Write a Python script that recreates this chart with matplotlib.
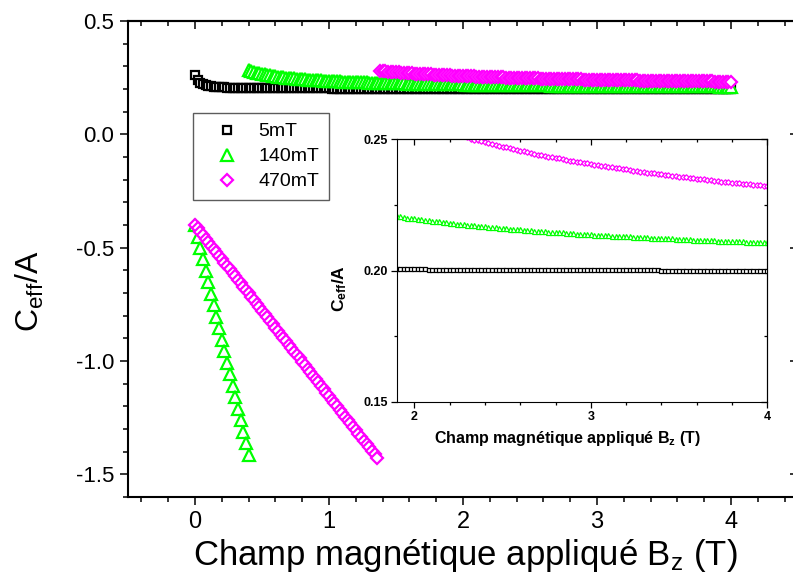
import matplotlib
matplotlib.use("Agg")
import matplotlib.pyplot as plt
from matplotlib.ticker import MultipleLocator, FixedLocator
from matplotlib.lines import Line2D

plt.rcParams["font.family"] = "Liberation Sans"
plt.rcParams["mathtext.fontset"] = "custom"
plt.rcParams["mathtext.rm"] = "Liberation Sans"
plt.rcParams["mathtext.bf"] = "Liberation Sans:bold"
plt.rcParams["mathtext.it"] = "Liberation Sans:italic"

# ── Data: applied field sweep (T) ─────────────────────────────────────────────
FIELD = [
    0.00, 0.02, 0.04, 0.06, 0.08, 0.10, 0.12, 0.14, 0.16, 0.18,
    0.20, 0.22, 0.24, 0.26, 0.28, 0.30, 0.32, 0.34, 0.36, 0.38,
    0.40, 0.42, 0.44, 0.46, 0.48, 0.50, 0.52, 0.54, 0.56, 0.58,
    0.60, 0.62, 0.64, 0.66, 0.68, 0.70, 0.72, 0.74, 0.76, 0.78,
    0.80, 0.82, 0.84, 0.86, 0.88, 0.90, 0.92, 0.94, 0.96, 0.98,
    1.00, 1.02, 1.04, 1.06, 1.08, 1.10, 1.12, 1.14, 1.16, 1.18,
    1.20, 1.22, 1.24, 1.26, 1.28, 1.30, 1.32, 1.34, 1.36, 1.38,
    1.40, 1.42, 1.44, 1.46, 1.48, 1.50, 1.52, 1.54, 1.56, 1.58,
    1.60, 1.62, 1.64, 1.66, 1.68, 1.70, 1.72, 1.74, 1.76, 1.78,
    1.80, 1.82, 1.84, 1.86, 1.88, 1.90, 1.92, 1.94, 1.96, 1.98,
    2.00, 2.02, 2.04, 2.06, 2.08, 2.10, 2.12, 2.14, 2.16, 2.18,
    2.20, 2.22, 2.24, 2.26, 2.28, 2.30, 2.32, 2.34, 2.36, 2.38,
    2.40, 2.42, 2.44, 2.46, 2.48, 2.50, 2.52, 2.54, 2.56, 2.58,
    2.60, 2.62, 2.64, 2.66, 2.68, 2.70, 2.72, 2.74, 2.76, 2.78,
    2.80, 2.82, 2.84, 2.86, 2.88, 2.90, 2.92, 2.94, 2.96, 2.98,
    3.00, 3.02, 3.04, 3.06, 3.08, 3.10, 3.12, 3.14, 3.16, 3.18,
    3.20, 3.22, 3.24, 3.26, 3.28, 3.30, 3.32, 3.34, 3.36, 3.38,
    3.40, 3.42, 3.44, 3.46, 3.48, 3.50, 3.52, 3.54, 3.56, 3.58,
    3.60, 3.62, 3.64, 3.66, 3.68, 3.70, 3.72, 3.74, 3.76, 3.78,
    3.80, 3.82, 3.84, 3.86, 3.88, 3.90, 3.92, 3.94, 3.96, 3.98,
    4.00,
]

# 5 mT : whole sweep 0 -> 4 T
C_5MT = [
    0.2610, 0.2400, 0.2280, 0.2200, 0.2160, 0.2130, 0.2110, 0.2098, 0.2088, 0.2080,
    0.2074, 0.2069, 0.2065, 0.2062, 0.2059, 0.2057, 0.2055, 0.2053, 0.2051, 0.2049,
    0.2047, 0.2045, 0.2044, 0.2042, 0.2041, 0.2040, 0.2039, 0.2038, 0.2037, 0.2036,
    0.2035, 0.2034, 0.2033, 0.2032, 0.2032, 0.2031, 0.2030, 0.2029, 0.2029, 0.2028,
    0.2027, 0.2027, 0.2026, 0.2025, 0.2025, 0.2024, 0.2024, 0.2023, 0.2023, 0.2022,
    0.2022, 0.2021, 0.2021, 0.2020, 0.2020, 0.2019, 0.2019, 0.2018, 0.2018, 0.2017,
    0.2017, 0.2017, 0.2016, 0.2016, 0.2015, 0.2015, 0.2015, 0.2014, 0.2014, 0.2014,
    0.2013, 0.2013, 0.2013, 0.2012, 0.2012, 0.2012, 0.2011, 0.2011, 0.2011, 0.2010,
    0.2010, 0.2010, 0.2010, 0.2009, 0.2009, 0.2009, 0.2009, 0.2008, 0.2008, 0.2008,
    0.2008, 0.2007, 0.2007, 0.2007, 0.2007, 0.2006, 0.2006, 0.2006, 0.2006, 0.2006,
    0.2006, 0.2006, 0.2006, 0.2006, 0.2002, 0.2002, 0.2002, 0.2002, 0.2002, 0.2002,
    0.2002, 0.2002, 0.2002, 0.2002, 0.2002, 0.2002, 0.2002, 0.2002, 0.2002, 0.2002,
    0.2001, 0.2001, 0.2001, 0.2001, 0.2001, 0.2001, 0.2001, 0.2001, 0.2001, 0.2001,
    0.2001, 0.2001, 0.2001, 0.2001, 0.2001, 0.2001, 0.2001, 0.2001, 0.2001, 0.2001,
    0.2001, 0.2001, 0.2001, 0.2001, 0.2001, 0.2001, 0.2001, 0.2001, 0.2001, 0.2001,
    0.2001, 0.2001, 0.2001, 0.2001, 0.2001, 0.2001, 0.2001, 0.2001, 0.2001, 0.2001,
    0.2001, 0.2001, 0.2001, 0.2001, 0.2001, 0.2001, 0.2001, 0.2001, 0.2001, 0.2001,
    0.2000, 0.2000, 0.2000, 0.2000, 0.2000, 0.2000, 0.2000, 0.2000, 0.2000, 0.2000,
    0.2000, 0.2000, 0.2000, 0.2000, 0.2000, 0.2000, 0.2000, 0.2000, 0.2000, 0.2000,
    0.2000, 0.2000, 0.2000, 0.2000, 0.2000, 0.2000, 0.2000, 0.2000, 0.2000, 0.2000,
    0.2000,
]

# 140 mT : linear branch 0 -> 0.40 T, then upper branch 0.40 -> 4 T
C_140MT_LOW = [
    -0.400, -0.451, -0.501, -0.552, -0.603, -0.653, -0.704, -0.755, -0.805, -0.856,
    -0.907, -0.957, -1.008, -1.059, -1.109, -1.160, -1.211, -1.261, -1.312, -1.363,
    -1.413,
]
C_140MT_HIGH = [
    0.2820, 0.2783, 0.2750, 0.2719, 0.2691, 0.2665, 0.2641, 0.2619, 0.2599, 0.2579,
    0.2562, 0.2545, 0.2529, 0.2515, 0.2501, 0.2488, 0.2476, 0.2464, 0.2453, 0.2442,
    0.2433, 0.2423, 0.2414, 0.2406, 0.2397, 0.2389, 0.2382, 0.2375, 0.2368, 0.2361,
    0.2355, 0.2349, 0.2343, 0.2337, 0.2332, 0.2327, 0.2322, 0.2317, 0.2312, 0.2308,
    0.2303, 0.2299, 0.2295, 0.2291, 0.2287, 0.2283, 0.2280, 0.2276, 0.2273, 0.2270,
    0.2266, 0.2263, 0.2260, 0.2257, 0.2254, 0.2252, 0.2249, 0.2246, 0.2244, 0.2241,
    0.2239, 0.2236, 0.2234, 0.2232, 0.2230, 0.2227, 0.2225, 0.2223, 0.2221, 0.2219,
    0.2217, 0.2215, 0.2214, 0.2212, 0.2210, 0.2208, 0.2206, 0.2204, 0.2202, 0.2201,
    0.2199, 0.2197, 0.2195, 0.2193, 0.2192, 0.2190, 0.2188, 0.2187, 0.2185, 0.2184,
    0.2182, 0.2181, 0.2179, 0.2178, 0.2176, 0.2175, 0.2174, 0.2172, 0.2171, 0.2170,
    0.2168, 0.2167, 0.2166, 0.2165, 0.2163, 0.2162, 0.2161, 0.2160, 0.2159, 0.2158,
    0.2157, 0.2156, 0.2154, 0.2153, 0.2152, 0.2151, 0.2150, 0.2149, 0.2148, 0.2147,
    0.2147, 0.2146, 0.2145, 0.2144, 0.2143, 0.2142, 0.2141, 0.2140, 0.2139, 0.2139,
    0.2138, 0.2137, 0.2136, 0.2135, 0.2135, 0.2134, 0.2133, 0.2132, 0.2132, 0.2131,
    0.2130, 0.2130, 0.2129, 0.2128, 0.2127, 0.2127, 0.2126, 0.2125, 0.2125, 0.2124,
    0.2124, 0.2123, 0.2122, 0.2122, 0.2121, 0.2120, 0.2120, 0.2119, 0.2119, 0.2118,
    0.2118, 0.2117, 0.2116, 0.2116, 0.2115, 0.2115, 0.2114, 0.2114, 0.2113, 0.2113,
    0.2112, 0.2112, 0.2111, 0.2111, 0.2110, 0.2110, 0.2109, 0.2109, 0.2108, 0.2108,
    0.2107,
]

# 470 mT : linear branch 0 -> 1.36 T, then upper branch 1.38 -> 4 T
C_470MT_LOW = [
    -0.4000, -0.4151, -0.4302, -0.4453, -0.4604, -0.4755, -0.4906, -0.5057, -0.5208, -0.5359,
    -0.5510, -0.5661, -0.5812, -0.5963, -0.6114, -0.6265, -0.6416, -0.6567, -0.6718, -0.6869,
    -0.7020, -0.7171, -0.7322, -0.7473, -0.7624, -0.7775, -0.7926, -0.8077, -0.8228, -0.8379,
    -0.8530, -0.8681, -0.8832, -0.8983, -0.9134, -0.9285, -0.9436, -0.9587, -0.9738, -0.9889,
    -1.0040, -1.0191, -1.0342, -1.0493, -1.0644, -1.0795, -1.0946, -1.1097, -1.1248, -1.1399,
    -1.1550, -1.1701, -1.1852, -1.2003, -1.2154, -1.2305, -1.2456, -1.2607, -1.2758, -1.2909,
    -1.3060, -1.3211, -1.3362, -1.3513, -1.3664, -1.3815, -1.3966, -1.4117, -1.4268,
]
C_470MT_HIGH = [
    0.2797,
    0.2786, 0.2776, 0.2766, 0.2757, 0.2748, 0.2739, 0.2730, 0.2721, 0.2713, 0.2705,
    0.2697, 0.2689, 0.2682, 0.2674, 0.2667, 0.2660, 0.2653, 0.2647, 0.2640, 0.2634,
    0.2628, 0.2621, 0.2616, 0.2610, 0.2604, 0.2598, 0.2593, 0.2588, 0.2582, 0.2577,
    0.2572, 0.2567, 0.2562, 0.2557, 0.2553, 0.2548, 0.2544, 0.2539, 0.2535, 0.2531,
    0.2527, 0.2523, 0.2518, 0.2515, 0.2511, 0.2507, 0.2503, 0.2499, 0.2496, 0.2492,
    0.2489, 0.2485, 0.2482, 0.2479, 0.2475, 0.2472, 0.2469, 0.2466, 0.2463, 0.2460,
    0.2457, 0.2454, 0.2451, 0.2448, 0.2445, 0.2442, 0.2440, 0.2437, 0.2434, 0.2432,
    0.2429, 0.2427, 0.2424, 0.2422, 0.2419, 0.2417, 0.2415, 0.2412, 0.2410, 0.2408,
    0.2405, 0.2403, 0.2401, 0.2399, 0.2397, 0.2395, 0.2393, 0.2391, 0.2389, 0.2387,
    0.2385, 0.2383, 0.2381, 0.2379, 0.2377, 0.2375, 0.2373, 0.2371, 0.2370, 0.2368,
    0.2366, 0.2364, 0.2363, 0.2361, 0.2359, 0.2358, 0.2356, 0.2355, 0.2353, 0.2351,
    0.2350, 0.2348, 0.2347, 0.2345, 0.2344, 0.2342, 0.2341, 0.2339, 0.2338, 0.2337,
    0.2335, 0.2334, 0.2332, 0.2331, 0.2330, 0.2328, 0.2327, 0.2326, 0.2325, 0.2323,
    0.2322,
]

LABELS = ["5mT", "140mT", "470mT"]
COLORS = ["black", "#00ff00", "#ff00ff"]
MARKERS = ["s", "^", "D"]

# branches as (field, values) per series
SERIES = [
    [(FIELD, C_5MT)],
    [(FIELD[:len(C_140MT_LOW)], C_140MT_LOW),
     (FIELD[len(FIELD) - len(C_140MT_HIGH):], C_140MT_HIGH)],
    [(FIELD[:len(C_470MT_LOW)], C_470MT_LOW),
     (FIELD[len(FIELD) - len(C_470MT_HIGH):], C_470MT_HIGH)],
]

MAIN_MS = [6.0, 8.5, 6.5]
INSET_MS = [3.0, 3.6, 2.8]


def origin_ticks(ax, sec_x, sec_y, major, minor, width):
    for a in (ax, sec_x, sec_y):
        a.tick_params(which="major", length=major, width=width)
        a.tick_params(which="minor", length=minor, width=width)
    ax.tick_params(which="both", direction="out")
    sec_x.tick_params(which="both", direction="in", labeltop=False)
    sec_y.tick_params(which="both", direction="in", labelright=False)


fig = plt.figure(figsize=(7.93, 5.75), dpi=100)
fig.patch.set_facecolor("white")

# ── Main axes ─────────────────────────────────────────────────────────────────
ax = fig.add_axes([0.1614, 0.1357, 0.8449, 0.8278])
for i, branches in enumerate(SERIES):
    for x, y in branches:
        ax.plot(x, y, linestyle="none", marker=MARKERS[i], ms=MAIN_MS[i],
                mfc="white", mec=COLORS[i], mew=1.6)

ax.set_xlim(-0.5, 4.5)
ax.set_ylim(-1.6, 0.5)
ax.xaxis.set_major_locator(FixedLocator([0, 1, 2, 3, 4]))
ax.xaxis.set_minor_locator(MultipleLocator(0.2))
ax.yaxis.set_major_locator(FixedLocator([-1.5, -1.0, -0.5, 0.0, 0.5]))
ax.yaxis.set_minor_locator(MultipleLocator(0.1))
ax.set_yticklabels(["-1.5", "-1.0", "-0.5", "0.0", "0.5"])
for s in ax.spines.values():
    s.set_linewidth(1.5)

top = ax.secondary_xaxis("top")
top.xaxis.set_major_locator(FixedLocator([0, 1, 2, 3, 4]))
top.xaxis.set_minor_locator(MultipleLocator(0.2))
right = ax.secondary_yaxis("right")
right.yaxis.set_major_locator(FixedLocator([-1.5, -1.0, -0.5, 0.0, 0.5]))
right.yaxis.set_minor_locator(MultipleLocator(0.1))
for a in (top, right):
    for s in a.spines.values():
        s.set_linewidth(1.5)
origin_ticks(ax, top, right, 6, 3.6, 1.1)
ax.tick_params(axis="y", labelsize=16, pad=4)
ax.tick_params(axis="x", labelsize=17, pad=4)

ax.set_xlabel(r"Champ magnétique appliqué B$_{\mathrm{z}}$ (T)", fontsize=25)
ax.xaxis.set_label_coords(0.503, -0.084)
ax.set_ylabel(r"C$_{\mathrm{eff}}$/A", fontsize=23)
ax.yaxis.set_label_coords(-0.122, 0.432)

handles = [Line2D([], [], linestyle="none", marker=MARKERS[i], ms=MAIN_MS[i],
                  mfc="white", mec=COLORS[i], mew=1.6) for i in range(3)]
leg = ax.legend(handles, LABELS, loc="upper left",
                bbox_to_anchor=(0.2434, 0.8035), bbox_transform=fig.transFigure,
                fontsize=14, frameon=True, fancybox=False, borderaxespad=0,
                borderpad=0.5, handlelength=2.5, handletextpad=0.35,
                labelspacing=0.38, numpoints=1)
leg.get_frame().set_edgecolor("#333333")
leg.get_frame().set_linewidth(1.0)

# ── Inset ─────────────────────────────────────────────────────────────────────
ins = fig.add_axes([0.5003, 0.3014, 0.4673, 0.4563])
ins.set_facecolor("white")
for i, branches in enumerate(SERIES):
    for x, y in branches:
        ins.plot(x, y, linestyle="none", marker=MARKERS[i], ms=INSET_MS[i],
                 mfc="white", mec=COLORS[i], mew=0.9)
ins.set_xlim(1.9, 4.0)
ins.set_ylim(0.15, 0.25)
ins.xaxis.set_major_locator(FixedLocator([2, 3, 4]))
ins.xaxis.set_minor_locator(MultipleLocator(0.2))
ins.yaxis.set_major_locator(FixedLocator([0.15, 0.20, 0.25]))
ins.yaxis.set_minor_locator(MultipleLocator(0.025))
ins.set_yticklabels(["0.15", "0.20", "0.25"])
ins_top = ins.secondary_xaxis("top")
ins_top.xaxis.set_major_locator(FixedLocator([2, 3, 4]))
ins_top.xaxis.set_minor_locator(MultipleLocator(0.2))
ins_right = ins.secondary_yaxis("right")
ins_right.yaxis.set_major_locator(FixedLocator([0.15, 0.20, 0.25]))
ins_right.yaxis.set_minor_locator(MultipleLocator(0.025))
origin_ticks(ins, ins_top, ins_right, 4.5, 2.5, 0.9)
ins.tick_params(labelsize=9, pad=2)
for lbl in ins.get_xticklabels() + ins.get_yticklabels():
    lbl.set_fontweight("bold")
ins.set_xlabel(r"Champ magnétique appliqué B$_{\mathbf{z}}$ (T)",
               fontsize=11.5, fontweight="bold")
ins.xaxis.set_label_coords(0.46, -0.105)
ins.set_ylabel(r"C$_{\mathbf{eff}}$/A", fontsize=12.5, fontweight="bold")
ins.yaxis.set_label_coords(-0.13, 0.43)

fig.savefig("out.png", dpi=100, facecolor="white")
